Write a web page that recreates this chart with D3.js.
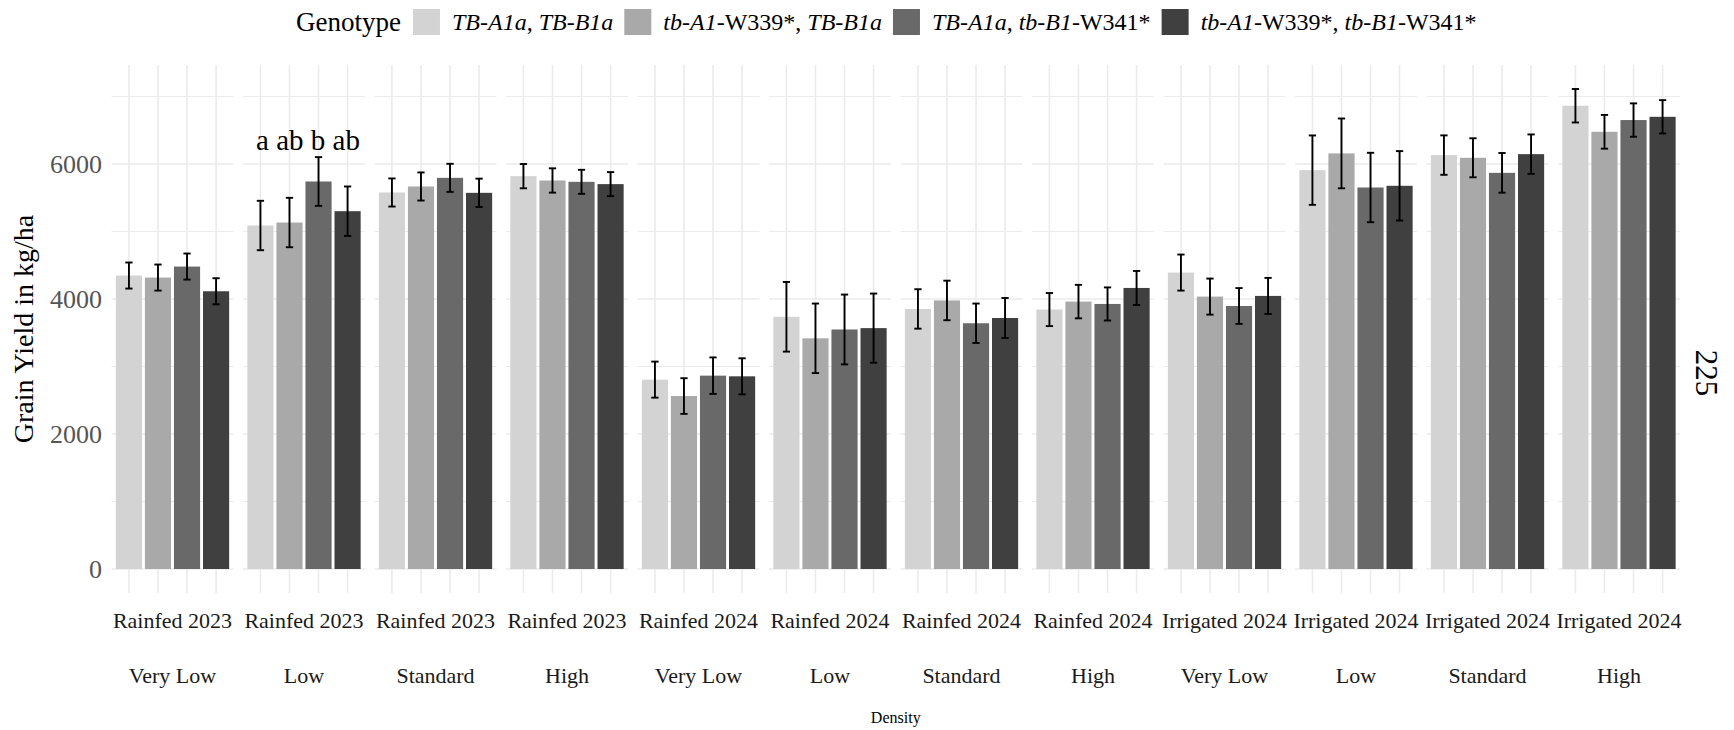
<!DOCTYPE html>
<html>
<head>
<meta charset="utf-8">
<script src="https://cdn.jsdelivr.net/npm/d3@7"></script>
<style>
  body { margin: 0; background: #fff; }
  text { font-family: "Liberation Serif", "Times New Roman", serif; }
</style>
</head>
<body>
<div id="graph"></div>
<script>
// genotypes (legend order), facets
const genotypes = ["g1", "g2", "g3", "g4"]
const genoFill = ["#d3d3d3", "#a9a9a9", "#696969", "#404040"]

const environments = ["Rainfed 2023", "Rainfed 2023", "Rainfed 2023", "Rainfed 2023",
  "Rainfed 2024", "Rainfed 2024", "Rainfed 2024", "Rainfed 2024",
  "Irrigated 2024", "Irrigated 2024", "Irrigated 2024", "Irrigated 2024"]
const densities = ["Very Low", "Low", "Standard", "High",
  "Very Low", "Low", "Standard", "High",
  "Very Low", "Low", "Standard", "High"]

// mean grain yield (kg/ha), one row per facet, one value per genotype
const yieldMean = [
  [4347, 4317, 4480, 4114],
  [5088, 5132, 5740, 5300],
  [5577, 5666, 5794, 5572],
  [5819, 5755, 5735, 5701],
  [2805, 2562, 2864, 2854],
  [3736, 3417, 3548, 3568],
  [3852, 3978, 3640, 3718],
  [3843, 3961, 3926, 4163],
  [4391, 4035, 3896, 4045],
  [5908, 6156, 5651, 5676],
  [6131, 6091, 5868, 6145],
  [6862, 6476, 6650, 6698]
]
// standard errors
const yieldSE = [
  [193, 193, 193, 193],
  [366, 366, 361, 366],
  [208, 208, 208, 210],
  [180, 180, 178, 178],
  [267, 264, 270, 267],
  [516, 515, 517, 512],
  [292, 293, 292, 296],
  [245, 248, 245, 252],
  [267, 267, 265, 267],
  [514, 517, 514, 514],
  [292, 289, 294, 292],
  [248, 250, 247, 247]
]

// significance letters (only the Rainfed 2023 / Low facet has them)
const letterFacet = 1
const letters = ["a", "ab", "b", "ab"]
const letterY = 6210

const yMajor = [0, 2000, 4000, 6000]
const yMinor = [1000, 3000, 5000, 7000]

let width = 1734, height = 730

let svg = d3.select("#graph")
  .append("svg")
  .attr("width", width)
  .attr("height", height)

// rows: one per bar
let rows = []
yieldMean.forEach((vals, f) => {
  vals.forEach((v, g) => {
    rows.push({ facet: f, geno: genotypes[g], gi: g, mean: v, se: yieldSE[f][g] })
  })
})

let maxTop = d3.max(rows, d => d.mean + d.se)

let panelTop = 65, panelBottom = 593

let y = d3.scaleLinear()
  .domain([-0.05 * maxTop, 1.05 * maxTop])
  .range([panelBottom, panelTop])

let facet = d3.scaleBand()
  .domain(d3.range(12))
  .range([111.5, 1680])
  .paddingInner(0.0722)
  .paddingOuter(0)

let x = d3.scaleBand()
  .domain(genotypes)
  .range([0, facet.bandwidth()])
  .paddingInner(0.1)
  .paddingOuter(0.15)

let unit = x.step()

// panels
let panels = svg.append("g")
  .selectAll("g")
  .data(d3.range(12))
  .join("g")
  .attr("transform", d => "translate(" + facet(d) + ",0)")

panels.each(function (f) {
  let p = d3.select(this)
  // grid
  p.selectAll(".minor")
    .data(yMinor)
    .join("line")
    .attr("x1", 0).attr("x2", facet.bandwidth())
    .attr("y1", d => y(d)).attr("y2", d => y(d))
    .attr("stroke", "#ebebeb").attr("stroke-width", 1)
  p.selectAll(".major")
    .data(yMajor)
    .join("line")
    .attr("x1", 0).attr("x2", facet.bandwidth())
    .attr("y1", d => y(d)).attr("y2", d => y(d))
    .attr("stroke", "#ebebeb").attr("stroke-width", 1.6)
  p.selectAll(".vgrid")
    .data(genotypes)
    .join("line")
    .attr("x1", d => x(d) + x.bandwidth() / 2).attr("x2", d => x(d) + x.bandwidth() / 2)
    .attr("y1", panelTop).attr("y2", panelBottom)
    .attr("stroke", "#ebebeb").attr("stroke-width", 1.6)

  let fr = rows.filter(r => r.facet === f)

  // bars
  p.selectAll("rect")
    .data(fr)
    .join("rect")
    .attr("x", d => x(d.geno))
    .attr("width", x.bandwidth())
    .attr("y", d => y(d.mean))
    .attr("height", d => y(0) - y(d.mean))
    .attr("fill", d => genoFill[d.gi])

  // error bars
  let eb = p.selectAll(".eb")
    .data(fr)
    .join("g")
    .attr("transform", d => "translate(" + (x(d.geno) + x.bandwidth() / 2) + ",0)")
  eb.append("line")
    .attr("y1", d => y(d.mean - d.se)).attr("y2", d => y(d.mean + d.se))
    .attr("stroke", "#000").attr("stroke-width", 1.9)
  eb.append("line")
    .attr("x1", -unit * 0.125).attr("x2", unit * 0.125)
    .attr("y1", d => y(d.mean + d.se)).attr("y2", d => y(d.mean + d.se))
    .attr("stroke", "#000").attr("stroke-width", 1.9)
  eb.append("line")
    .attr("x1", -unit * 0.125).attr("x2", unit * 0.125)
    .attr("y1", d => y(d.mean - d.se)).attr("y2", d => y(d.mean - d.se))
    .attr("stroke", "#000").attr("stroke-width", 1.9)

  // letters as one string, centred a bit right of the panel middle
  if (f === letterFacet) {
    p.append("text")
      .attr("x", facet.bandwidth() / 2 + 4)
      .attr("y", y(letterY))
      .attr("text-anchor", "middle")
      .attr("font-size", 29)
      .attr("fill", "#000")
      .text(letters.join(" "))
  }

  // strip labels under the panel
  p.append("text")
    .attr("x", facet.bandwidth() / 2)
    .attr("y", 628)
    .attr("text-anchor", "middle")
    .attr("font-size", 22)
    .attr("fill", "#1a1a1a")
    .text(environments[f])
  p.append("text")
    .attr("x", facet.bandwidth() / 2)
    .attr("y", 683)
    .attr("text-anchor", "middle")
    .attr("font-size", 22)
    .attr("fill", "#1a1a1a")
    .text(densities[f])
})

// y axis labels
svg.append("g")
  .selectAll("text")
  .data(yMajor)
  .join("text")
  .attr("x", 102)
  .attr("y", d => y(d))
  .attr("dy", "0.35em")
  .attr("text-anchor", "end")
  .attr("font-size", 26)
  .attr("fill", "#555555")
  .text(d => d)

// axis titles
svg.append("text")
  .attr("transform", "translate(33," + ((panelTop + panelBottom) / 2) + ") rotate(-90)")
  .attr("text-anchor", "middle")
  .attr("font-size", 28)
  .attr("fill", "#000")
  .text("Grain Yield in kg/ha")

svg.append("text")
  .attr("x", (111.5 + 1680) / 2)
  .attr("y", 723)
  .attr("text-anchor", "middle")
  .attr("font-size", 16)
  .attr("fill", "#000")
  .text("Density")

// page number on the right edge
svg.append("text")
  .attr("transform", "translate(1696,373) rotate(90)")
  .attr("text-anchor", "middle")
  .attr("font-size", 31)
  .attr("fill", "#000")
  .text("225")

// legend, mixed italic / upright runs
const legendParts = [
  [["TB-A1a", true], [", ", false], ["TB-B1a", true]],
  [["tb-A1", true], ["-W339*, ", false], ["TB-B1a", true]],
  [["TB-A1a", true], [", ", false], ["tb-B1", true], ["-W341*", false]],
  [["tb-A1", true], ["-W339*, ", false], ["tb-B1", true], ["-W341*", false]]
]

let legend = svg.append("g")
let lx = 296, ly = 22
let title = legend.append("text")
  .attr("x", lx).attr("y", ly)
  .attr("dy", "0.35em")
  .attr("font-size", 27)
  .text("Genotype")
lx += title.node().getComputedTextLength() + 12

legendParts.forEach((parts, i) => {
  legend.append("rect")
    .attr("x", lx).attr("y", ly - 13)
    .attr("width", 27).attr("height", 26)
    .attr("fill", genoFill[i])
  lx += 27 + 12
  let t = legend.append("text")
    .attr("x", lx).attr("y", ly)
    .attr("dy", "0.35em")
    .attr("font-size", 24)
  parts.forEach(p => {
    t.append("tspan")
      .attr("font-style", p[1] ? "italic" : "normal")
      .text(p[0])
  })
  lx += t.node().getComputedTextLength() + 11
})
</script>
</body>
</html>
